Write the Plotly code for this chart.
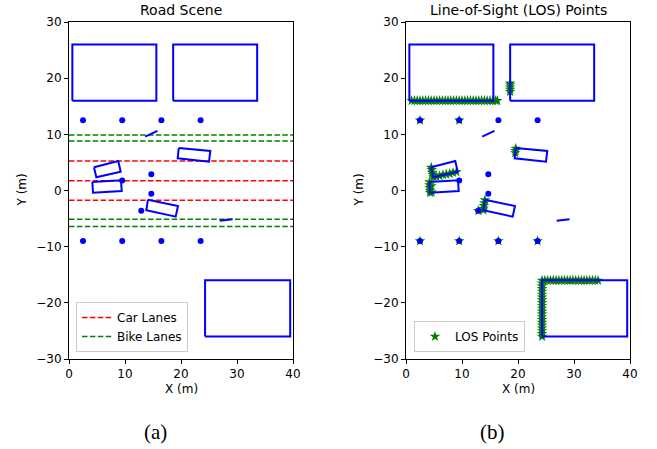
import plotly.graph_objects as go

# ---------------- data (metres) ----------------
building_x0 = [0.6, 18.6, 24.3]
building_x1 = [15.6, 33.6, 39.5]
building_y0 = [16.0, 16.0, -26.0]
building_y1 = [26.0, 26.0, -16.0]

car_corner_x = [
    [4.46, 8.80, 9.23, 4.88],
    [4.17, 9.29, 9.41, 4.29],
    [14.10, 19.46, 19.05, 13.80],
    [19.59, 25.23, 25.00, 19.41],
]
car_corner_y = [
    [4.13, 5.25, 3.35, 2.35],
    [1.51, 1.81, -0.09, -0.39],
    [-1.64, -2.76, -4.66, -3.52],
    [7.56, 7.03, 5.12, 5.73],
]

dot_x = [2.5, 9.5, 16.5, 23.5, 2.5, 9.5, 16.5, 23.5, 14.7, 14.7, 12.9, 9.5]
dot_y = [12.5, 12.5, 12.5, 12.5, -9.0, -9.0, -9.0, -9.0, 2.9, -0.6, -3.6, 1.8]

segment_x = [[13.6, 15.8], [26.9, 29.2]]
segment_y = [[9.6, 10.6], [-5.4, -5.1]]

car_lane_y = [5.25, 1.75, -1.75]
bike_lane_y = [9.9, 8.8, -5.1, -6.4]

x_ticks = [0, 10, 20, 30, 40]
y_ticks = [-30, -20, -10, 0, 10, 20, 30]

# LOS points
los_x = [
    1.0, 1.5, 2.0, 2.5, 3.0, 3.5, 4.0, 4.5, 5.0, 5.5, 6.0, 6.5, 7.0, 7.5, 8.0, 8.5,
    9.0, 9.5, 10.0, 10.5, 11.0, 11.5, 12.0, 12.5, 13.0, 13.5, 14.0, 14.5, 15.0, 15.5, 16.0, 16.3,
    18.6, 18.6, 18.6, 18.6, 18.6,
    4.5, 4.6, 4.7, 4.8, 4.9, 5.4, 6.0, 6.6, 7.2, 7.8, 8.4, 9.0,
    4.2, 4.2, 4.2, 4.3, 4.3, 4.5, 4.6,
    14.1, 14.0, 13.9, 13.8, 13.8, 12.9,
    19.6, 19.55, 19.5,
    2.5, 9.5, 2.5, 9.5, 16.5, 23.5,
    24.3, 24.3, 24.3, 24.3, 24.3, 24.3, 24.3, 24.3, 24.3, 24.3, 24.3,
    24.3, 24.3, 24.3, 24.3, 24.3, 24.3, 24.3, 24.3, 24.3, 24.3,
    24.8, 25.3, 25.8, 26.3, 26.8, 27.3, 27.8, 28.3, 28.8, 29.3,
    29.8, 30.3, 30.8, 31.3, 31.8, 32.3, 32.8, 33.3, 33.8, 34.3,
]
los_y = [
    16.0, 16.0, 16.0, 16.0, 16.0, 16.0, 16.0, 16.0, 16.0, 16.0, 16.0, 16.0, 16.0, 16.0, 16.0, 16.0,
    16.0, 16.0, 16.0, 16.0, 16.0, 16.0, 16.0, 16.0, 16.0, 16.0, 16.0, 16.0, 16.0, 16.0, 16.0, 16.0,
    17.6, 18.0, 18.4, 18.8, 19.1,
    4.1, 3.7, 3.2, 2.8, 2.4, 2.5, 2.6, 2.8, 2.9, 3.0, 3.2, 3.3,
    1.5, 1.0, 0.5, 0.0, -0.4, 0.8, -0.3,
    -1.7, -2.2, -2.7, -3.2, -3.5, -3.6,
    7.5, 7.1, 6.7,
    12.5, 12.5, -9.0, -9.0, -9.0, -9.0,
    -16.0, -16.5, -17.0, -17.5, -18.0, -18.5, -19.0, -19.5, -20.0, -20.5, -21.0,
    -21.5, -22.0, -22.5, -23.0, -23.5, -24.0, -24.5, -25.0, -25.5, -26.0,
    -16.0, -16.0, -16.0, -16.0, -16.0, -16.0, -16.0, -16.0, -16.0, -16.0,
    -16.0, -16.0, -16.0, -16.0, -16.0, -16.0, -16.0, -16.0, -16.0, -16.0,
]

BLUE = "#0000ff"
RED = "#ff0000"
GREEN = "#008000"
FONT = "DejaVu Sans"

W, H = 657, 449
ax_left = [(69, 293), (406, 630)]
ax_top, ax_bot = 22, 359


def px_x(p):
    return p / W


def px_y(p):
    return 1 - p / H


fig = go.Figure()


def outline_xy():
    xs, ys = [], []
    for x0, x1, y0, y1 in zip(building_x0, building_x1, building_y0, building_y1):
        xs += [x0, x1, x1, x0, x0, None]
        ys += [y0, y0, y1, y1, y0, None]
    for cx, cy in zip(car_corner_x, car_corner_y):
        xs += cx + [cx[0], None]
        ys += cy + [cy[0], None]
    for sx, sy in zip(segment_x, segment_y):
        xs += sx + [None]
        ys += sy + [None]
    return xs, ys


def add_scene(xa, ya):
    xs, ys = outline_xy()
    fig.add_trace(go.Scatter(x=xs, y=ys, mode="lines", xaxis=xa, yaxis=ya,
                             line=dict(color=BLUE, width=2), showlegend=False,
                             hoverinfo="skip"))
    fig.add_trace(go.Scatter(x=dot_x, y=dot_y, mode="markers", xaxis=xa, yaxis=ya,
                             marker=dict(color=BLUE, size=6), showlegend=False,
                             hoverinfo="skip"))


def lane_xy(levels):
    xs, ys = [], []
    for yv in levels:
        xs += [0, 40, None]
        ys += [yv, yv, None]
    return xs, ys


# ---- panel (a) ----
lx, ly = lane_xy(car_lane_y)
fig.add_trace(go.Scatter(x=lx, y=ly, mode="lines", name="Car Lanes", xaxis="x", yaxis="y",
                         line=dict(color=RED, width=1.5, dash="5.5px,2.4px"), legend="legend"))
bx, by = lane_xy(bike_lane_y)
fig.add_trace(go.Scatter(x=bx, y=by, mode="lines", name="Bike Lanes", xaxis="x", yaxis="y",
                         line=dict(color=GREEN, width=1.5, dash="5.5px,2.4px"), legend="legend"))
add_scene("x", "y")

# ---- panel (b) ----
fig.add_trace(go.Scatter(x=los_x, y=los_y, mode="markers", name="LOS Points",
                         xaxis="x2", yaxis="y2", legend="legend2",
                         marker=dict(symbol="star", color=GREEN, size=8, line=dict(width=0))))
add_scene("x2", "y2")

axis_common = dict(showgrid=False, zeroline=False, showline=True, mirror=True,
                   linecolor="black", linewidth=1, ticks="outside", ticklen=4,
                   tickwidth=1, tickcolor="black", automargin=False,
                   tickfont=dict(family=FONT, size=12, color="black"))

fig.update_layout(
    width=W, height=H, margin=dict(l=0, r=0, t=0, b=0, pad=0),
    paper_bgcolor="white", plot_bgcolor="white",
    xaxis=dict(domain=[px_x(69), px_x(293)], range=[0, 40], tickvals=x_ticks,
               anchor="y", **axis_common),
    yaxis=dict(domain=[px_y(ax_bot), px_y(ax_top)], range=[-30, 30], tickvals=y_ticks,
               anchor="x", **axis_common),
    xaxis2=dict(domain=[px_x(406), px_x(630)], range=[0, 40], tickvals=x_ticks,
                anchor="y2", **axis_common),
    yaxis2=dict(domain=[px_y(ax_bot), px_y(ax_top)], range=[-30, 30], tickvals=y_ticks,
                anchor="x2", **axis_common),
    legend=dict(x=px_x(76), y=px_y(352), xanchor="left", yanchor="bottom",
                bgcolor="white", bordercolor="#cccccc", borderwidth=1,
                font=dict(family=FONT, size=12, color="black"), tracegroupgap=0),
    legend2=dict(x=px_x(414), y=px_y(352), xanchor="left", yanchor="bottom",
                 bgcolor="white", bordercolor="#cccccc", borderwidth=1,
                 font=dict(family=FONT, size=12, color="black")),
)

annotations = []
for (l, r), title, cap in zip(ax_left, ["Road Scene", "Line-of-Sight (LOS) Points"], ["(a)", "(b)"]):
    cx = (l + r) / 2
    annotations.append(dict(x=px_x(cx), y=px_y(10), xref="paper", yref="paper",
                            text=title, showarrow=False, xanchor="center", yanchor="middle",
                            font=dict(family=FONT, size=14, color="black")))
    annotations.append(dict(x=px_x(cx), y=px_y(389), xref="paper", yref="paper",
                            text="X (m)", showarrow=False, xanchor="center", yanchor="middle",
                            font=dict(family=FONT, size=12, color="black")))
    annotations.append(dict(x=px_x(l - 48), y=px_y((ax_top + ax_bot) / 2), xref="paper",
                            yref="paper", text="Y (m)", showarrow=False, textangle=-90,
                            xanchor="center", yanchor="middle",
                            font=dict(family=FONT, size=12, color="black")))
    annotations.append(dict(x=px_x(cx - 26), y=px_y(432), xref="paper", yref="paper",
                            text=cap, showarrow=False, xanchor="center", yanchor="middle",
                            font=dict(family="Liberation Serif", size=21, color="black")))
fig.update_layout(annotations=annotations)

# remove the browser's default 8px page margin so the figure fills the window exactly
fig.write_html("out.html", config={"displayModeBar": False},
               post_script="document.body.style.margin='0';document.body.style.overflow='hidden';")
